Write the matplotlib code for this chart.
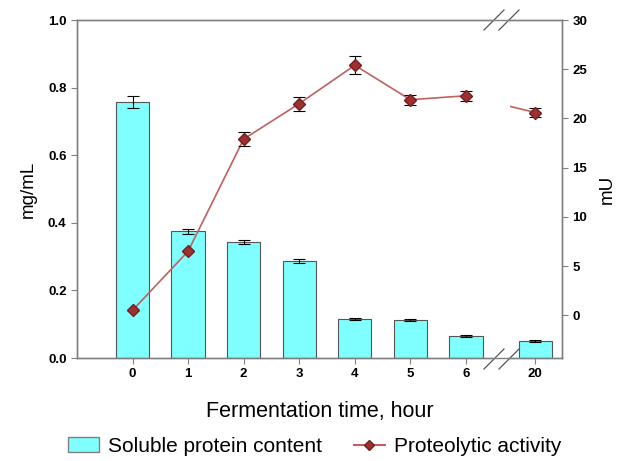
import matplotlib
matplotlib.use("Agg")
import matplotlib.pyplot as plt
import numpy as np
from matplotlib.patches import Rectangle
from matplotlib.lines import Line2D
from matplotlib.patches import Patch

plt.rcParams['font.family'] = ['Liberation Sans', 'DejaVu Sans']

categories = ["0", "1", "2", "3", "4", "5", "6", "20"]
positions = [0, 1, 2, 3, 4, 5, 6, 7.25]
protein = [0.757, 0.375, 0.343, 0.288, 0.115, 0.113, 0.065, 0.051]
protein_err = [0.018, 0.008, 0.007, 0.006, 0.004, 0.003, 0.003, 0.003]
activity = [0.5, 6.5, 17.9, 21.5, 25.4, 21.9, 22.3, 20.6]
activity_err = [0.0, 0.0, 0.7, 0.7, 0.9, 0.5, 0.5, 0.5]

fig = plt.figure(figsize=(6.17, 4.61), dpi=100)
ax = fig.add_axes([0.1248, 0.2234, 0.7861, 0.7332])
ax2 = ax.twinx()

spine_col = '#808080'
ax.bar(positions, protein, width=0.6, color='#7FFFFF', edgecolor='#555555', linewidth=0.8, zorder=2)
ax.errorbar(positions, protein, yerr=protein_err, fmt='none', ecolor='black', elinewidth=0.8,
            capsize=4, capthick=0.8, zorder=3)
ax.set_xlim(-1, 7.73)
ax.set_ylim(0, 1.0)
ax.set_yticks([0, 0.2, 0.4, 0.6, 0.8, 1.0])
ax.set_yticklabels(['0.0', '0.2', '0.4', '0.6', '0.8', '1.0'])
ax.set_xticks(positions)
ax.set_xticklabels(categories)

line_col = '#C06060'
mk_col = '#A03030'
ax2.plot(positions[:7], activity[:7], color=line_col, lw=1.2, zorder=3)
seg, = ax2.plot(positions[6:], activity[6:], color=line_col, lw=1.2, zorder=3)
clip = Rectangle((6.8, -10), 5, 60, transform=ax2.transData, visible=False)
ax2.add_patch(clip)
seg.set_clip_path(clip)
ax2.errorbar(positions, activity, yerr=activity_err, fmt='D', color=mk_col, mec='#702020',
             ms=6, ecolor='black', elinewidth=0.8, capsize=4, capthick=0.8, zorder=4)
ax2.set_ylim(-4.35, 30)
ax2.set_yticks([0, 5, 10, 15, 20, 25, 30])

for a in (ax, ax2):
    for s in a.spines.values():
        s.set_color(spine_col)
        s.set_linewidth(1.0)
    a.tick_params(colors='black', length=4, width=0.8, labelsize=9.5)
    a.tick_params(axis='both', color=spine_col)
    for lbl in a.get_xticklabels() + a.get_yticklabels():
        lbl.set_fontweight('bold')
ax.set_zorder(1)
ax2.set_zorder(2)
ax.patch.set_visible(False)
ax2.patch.set_visible(False)

ax.set_ylabel('mg/mL', fontsize=13.5, labelpad=8)
ax2.set_ylabel('mU', fontsize=13.5, labelpad=8)
ax.set_xlabel('Fermentation time, hour', fontsize=15.5, labelpad=15)

# white gaps in top and bottom spines at the axis break
for ypos in (0, 1):
    ax.plot([6.48, 6.78], [ypos, ypos], transform=ax.get_xaxis_transform(), color='white',
            lw=3, clip_on=False, zorder=10, solid_capstyle='butt')

def slash(xc, yc):
    fig.add_artist(Line2D([(xc - 10) / 617, (xc + 10) / 617],
                          [1 - (yc + 10) / 461, 1 - (yc - 10) / 461],
                          color='#555555', lw=0.9))
for yc in (20, 359):
    slash(494, yc)
    slash(509, yc)

handles = [Patch(facecolor='#7FFFFF', edgecolor='#808080', label='Soluble protein content'),
           Line2D([0], [0], color=line_col, marker='D', mfc=mk_col, mec='#702020', ms=5,
                  label='Proteolytic activity')]
fig.legend(handles=handles, loc='lower center', bbox_to_anchor=(0.51, -0.03), ncol=2,
           frameon=False, fontsize=15, handlelength=1.5, columnspacing=1.5, handletextpad=0.45)

fig.savefig('out.png', dpi=100)
